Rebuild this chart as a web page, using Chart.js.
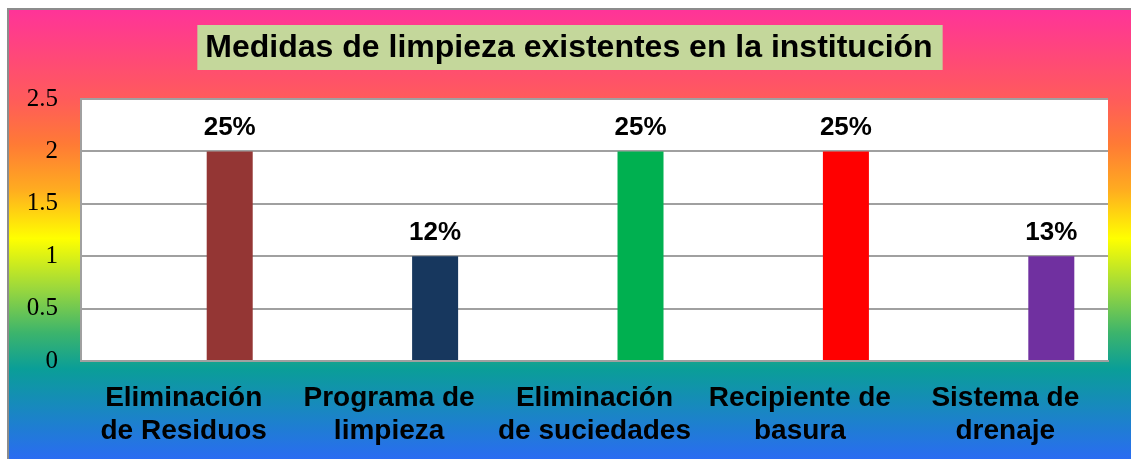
<!DOCTYPE html>
<html>
<head>
<meta charset="utf-8">
<script src="https://cdn.jsdelivr.net/npm/chart.js@4/dist/chart.umd.min.js"></script>
<style>
  html, body { margin: 0; background: #fff; overflow: hidden; }
  canvas { display: block; }
</style>
</head>
<body>
<canvas id="myChart" width="1131" height="459"></canvas>
<script>
const chartTitle = 'Medidas de limpieza existentes en la institución';
const categories = [
    ['Eliminación', 'de Residuos'],
    ['Programa de', 'limpieza'],
    ['Eliminación', 'de suciedades'],
    ['Recipiente de', 'basura'],
    ['Sistema de', 'drenaje']
];
const counts = [2, 1, 2, 2, 1];
const percentLabels = ['25%', '12%', '25%', '25%', '13%'];
const barColors = ['#943634', '#17375E', '#00B050', '#FF0000', '#7030A0'];
// the original sheet had two empty series before the one that is drawn
const emptySeries = [null, null, null, null, null];

const ctx = document.getElementById('myChart');

const background = {
    id: 'background',
    beforeDraw(chart) {
        const c = chart.ctx;
        const { width, height } = chart;
        c.save();
        const g = c.createLinearGradient(0, 9, 0, height);
        g.addColorStop(0.00, '#ff3399');
        g.addColorStop(0.20, '#ff5b5b');
        g.addColorStop(0.30, '#ff7a35');
        g.addColorStop(0.40, '#ffab20');
        g.addColorStop(0.51, '#ffff00');
        g.addColorStop(0.62, '#9cd83c');
        g.addColorStop(0.72, '#3cb46c');
        g.addColorStop(0.80, '#0a9e98');
        g.addColorStop(1.00, '#2a6cf2');
        c.fillStyle = g;
        c.fillRect(8, 10, width, height);
        c.strokeStyle = '#8c8c8c';
        c.lineWidth = 2;
        c.beginPath();
        c.moveTo(8, height);
        c.lineTo(8, 9);
        c.lineTo(width, 9);
        c.stroke();

        const a = chart.chartArea;
        c.fillStyle = '#ffffff';
        c.fillRect(a.left, a.top, a.right - a.left, a.bottom - a.top);

        // title with its green box
        c.font = 'bold 32px "Liberation Sans", Arial, sans-serif';
        const w = c.measureText(chartTitle).width;
        const cx = 569, cy = 47.5;
        c.fillStyle = '#c4d79b';
        c.fillRect(cx - w / 2 - 8, cy - 22.5, w + 18, 45);
        c.fillStyle = '#000';
        c.textAlign = 'center';
        c.textBaseline = 'middle';
        c.fillText(chartTitle, cx, cy + 1);
        c.restore();
    }
};

const percentText = {
    id: 'percentText',
    afterDatasetsDraw(chart) {
        const c = chart.ctx;
        const meta = chart.getDatasetMeta(2);
        c.save();
        c.font = 'bold 26px "Liberation Sans", Arial, sans-serif';
        c.fillStyle = '#000';
        c.textAlign = 'center';
        c.textBaseline = 'alphabetic';
        meta.data.forEach((bar, i) => {
            c.fillText(percentLabels[i], bar.x, bar.y - 16);
        });
        c.restore();
    }
};

new Chart(ctx, {
    type: 'bar',
    data: {
        labels: categories,
        datasets: [
            { label: 'a', data: emptySeries },
            { label: 'b', data: emptySeries },
            {
                label: 'Medidas',
                data: counts,
                backgroundColor: barColors,
                borderWidth: 0
            }
        ]
    },
    options: {
        responsive: false,
        animation: false,
        categoryPercentage: 0.672,
        barPercentage: 1,
        layout: { padding: { top: 99, left: 7, right: 23, bottom: 0 } },
        plugins: {
            legend: { display: false },
            title: { display: false },
            tooltip: { enabled: false }
        },
        scales: {
            x: {
                grid: { display: false, drawTicks: false },
                border: { display: true, color: '#a0a0a0', width: 2 },
                ticks: {
                    color: '#000',
                    padding: 20,
                    maxRotation: 0,
                    autoSkip: false,
                    font: { family: '"Liberation Sans", Arial, sans-serif', size: 28, weight: 'bold', lineHeight: 1.2 }
                },
                afterFit(scale) { scale.height = 98; }
            },
            y: {
                min: 0,
                max: 2.5,
                grid: { color: '#a0a0a0', lineWidth: 2, drawTicks: false },
                border: { display: true, color: '#a0a0a0', width: 2 },
                ticks: {
                    stepSize: 0.5,
                    color: '#000',
                    padding: 23,
                    font: { family: '"Liberation Serif", "Times New Roman", serif', size: 25 },
                    callback: (value) => String(value)
                },
                afterFit(scale) { scale.width = 74; }
            }
        }
    },
    plugins: [background, percentText]
});
</script>
</body>
</html>
